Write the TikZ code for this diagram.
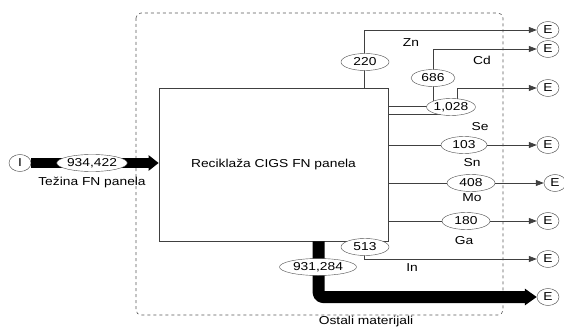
\documentclass[tikz,border=0pt]{standalone}
\usepackage{fontspec}
\setmainfont{Liberation Sans}[FakeStretch=1.2]
\usetikzlibrary{shapes.geometric,arrows.meta}
\begin{document}
\begin{tikzpicture}[x=1pt,y=-1pt,
  font=\fontsize{11.5}{13}\selectfont,
  endnode/.style={ellipse,draw=black!75,fill=white,inner sep=0pt,minimum width=22pt,minimum height=17pt},
  val/.style={ellipse,draw=black!70,fill=white,inner sep=0pt,minimum height=17pt,minimum width=#1},
  flow/.style={draw=black!75,line width=0.7pt,-{Triangle[length=8pt,width=6pt]}},
  bigflow/.style={draw=black,line width=#1,line join=round},
  lbl/.style={inner sep=0pt}
]
\useasboundingbox (0,0) rectangle (564,331);
% system boundary
\draw[dashed,draw=black!65,line width=0.6pt,rounded corners=5pt] (136,13) rectangle (503,315);
% process
\node[draw=black!75,line width=0.7pt,minimum width=229pt,minimum height=153pt,inner sep=0pt] (box) at (273.5,164.5) {Reciklaža CIGS FN panela};
% end nodes
\node[endnode] (eI) at (20,163) {I};
\node[endnode] (eZn) at (548,30) {E};
\node[endnode] (eCd) at (548,49) {E};
\node[endnode] (eSe) at (548,88) {E};
\node[endnode] (eSn) at (548,145) {E};
\node[endnode] (eMo) at (555,183) {E};
\node[endnode] (eGa) at (548,221) {E};
\node[endnode] (eIn) at (548,259) {E};
\node[endnode] (eOst) at (548,297) {E};
% flows
\draw[bigflow=10pt,-{Triangle[length=10pt,width=15pt]}] (eI.east) -- (eI.east -| box.west);
\draw[flow] ([xshift=206pt]box.north west) |- (eZn.west);
\draw[flow] ([yshift=-19pt]box.north east) -- ++(45,0) |- (eCd.west);
\draw[flow] ([yshift=-27pt]box.north east) -- ++(69,0) |- (eSe.west);
\draw[flow] (box.east |- eSn.west) -- (eSn.west);
\draw[flow] (box.east |- eMo.west) -- (eMo.west);
\draw[flow] (box.east |- eGa.west) -- (eGa.west);
\draw[flow] ([xshift=206pt]box.south west) |- (eIn.west);
\draw[bigflow=12pt,rounded corners=4pt,-{Triangle[length=12pt,width=16pt]}] ([xshift=160pt]box.south west) |- (eOst.west);
% values
\node[val=70pt] (v0) at (92,163) {934,422};
\node[val=48pt] (v1) at (365,62) {220};
\node[val=44pt] (v2) at (433,78) {686};
\node[val=48pt] (v3) at (451,107) {1,028};
\node[val=46pt] (v4) at (464,145) {103};
\node[val=48pt] (v5) at (471,183) {408};
\node[val=48pt] (v6) at (466,221) {180};
\node[val=48pt] (v7) at (365,247) {513};
\node[val=77pt] (v8) at (318,267) {931,284};
% labels
\node[lbl] (l0) at (92,183) {Težina FN panela};
\node[lbl] (l1) at (411,43) {Zn};
\node[lbl] (l2) at (482,60) {Cd};
\node[lbl] (l3) at (480,127) {Se};
\node[lbl] (l4) at (472,163) {Sn};
\node[lbl] (l5) at (472,198) {Mo};
\node[lbl] (l6) at (464,241) {Ga};
\node[lbl] (l7) at (412,268) {In};
\node[lbl] (l8) at (366,322) {Ostali materijali};
\end{tikzpicture}
\end{document}
